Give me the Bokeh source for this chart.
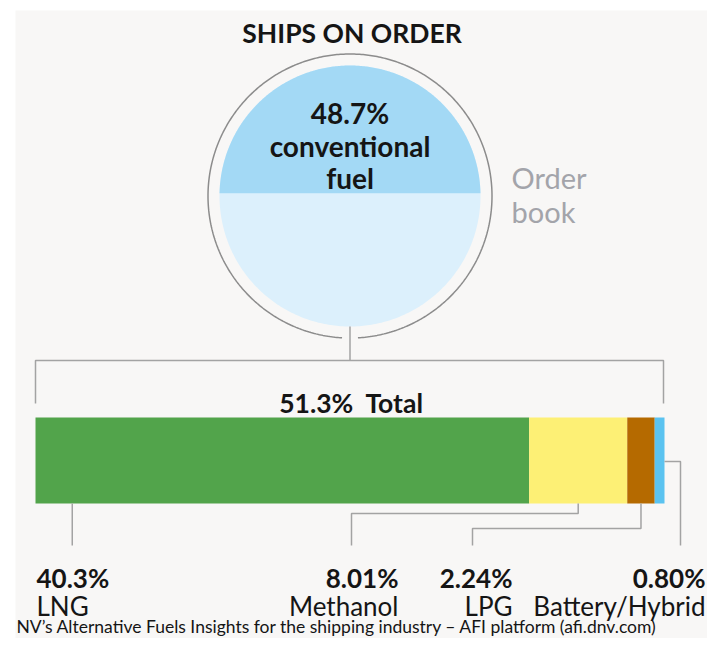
import numpy as np
from bokeh.plotting import figure
from bokeh.models import Range1d, ColumnDataSource
from bokeh.core.properties import value
from bokeh.embed import file_html
from bokeh.resources import INLINE

# ---------------- data ----------------
title = "SHIPS ON ORDER"
conventional_share = 48.7
conventional_label = ["48.7%", "conventional", "fuel"]
orderbook_label = ["Order", "book"]
total_label = "51.3%\u00a0 Total"
fuels = ["LNG", "Methanol", "LPG", "Battery/Hybrid"]
shares = [40.3, 8.01, 2.24, 0.80]
share_labels = ["40.3%", "8.01%", "2.24%", "0.80%"]
footer = "NV\u2019s Alternative Fuels Insights for the shipping industry \u2013 AFI platform (afi.dnv.com)"

# ---------------- style ----------------
FONT = value("Lato")
fuel_colors = ["#52a44b", "#fdf075", "#b56a00", "#5bc3f0"]
TXT = "#151515"
LINE = "#a3a3a3"

W, H = 707, 638
p = figure(width=W, height=H, output_backend="svg", toolbar_location=None,
           x_range=Range1d(0, W), y_range=Range1d(H, 0),
           min_border=0, outline_line_color=None,
           background_fill_color="white", border_fill_color="white")
p.axis.visible = False
p.grid.visible = False

# bar percentage scale: 0 -> px 35, sum -> px 664
bar_l, bar_r = 35.0, 664.0
tot = sum(shares)
span = tot * W / (bar_r - bar_l)
start = -bar_l * span / W
p.extra_x_ranges = {"pct": Range1d(start, start + span)}
def px(v):
    return bar_l + v * (bar_r - bar_l) / tot

# panel background
p.quad(left=[15], right=[730], top=[10], bottom=[660], fill_color="#f8f7f6", line_color=None)

# title
p.text(x=[351.5], y=[32], text=[title], text_font=FONT, text_font_style="bold",
       text_font_size="26.5px", text_align="center", text_baseline="middle", text_color=TXT)

# circle
cx, cy, r_in, r_out = 349.5, 195.5, 130.5, 142.0
phi = np.linspace(0, 2 * np.pi, 400)
p.patch(cx + r_in * np.sin(phi), cy - r_in * np.cos(phi), fill_color="#dcf0fc", line_color=None)
f = conventional_share / 100.0
th = np.pi
for _ in range(50):
    th -= (th - np.sin(th) - 2 * np.pi * f) / (1 - np.cos(th))
a = np.linspace(-th / 2, th / 2, 300)
p.patch(cx + r_in * np.sin(a), cy - r_in * np.cos(a), fill_color="#a3d9f5", line_color=None)

gap = 0.056
b = np.linspace(gap, 2 * np.pi - gap, 500)
p.line(cx + r_out * np.sin(b), cy + r_out * np.cos(b), line_color="#8c8c8c", line_width=1.5)

for txt, yb in zip(conventional_label, [112, 145, 177]):
    p.text(x=[cx], y=[yb], text=[txt], text_font=FONT, text_font_style="bold",
           text_font_size="28px", text_align="center", text_baseline="alphabetic", text_color=TXT)

for txt, yb in zip(orderbook_label, [177, 211]):
    p.text(x=[511], y=[yb], text=[txt], text_font=FONT, text_font_size="29px",
           text_align="left", text_baseline="alphabetic", text_color="#a3a4aa")

# bracket
p.line([cx, cx], [cy + r_in, 360], line_color=LINE, line_width=1.5)
p.line([bar_l, bar_l, bar_r - 1, bar_r - 1], [403, 360, 360, 403], line_color=LINE, line_width=1.5)
p.text(x=[351], y=[402], text=[total_label], text_font=FONT, text_font_style="bold",
       text_font_size="26.5px", text_align="center", text_baseline="alphabetic", text_color=TXT)

# stacked bar
lefts = np.concatenate([[0], np.cumsum(shares)[:-1]])
rights = np.cumsum(shares)
src = ColumnDataSource(dict(left=lefts, right=rights, color=fuel_colors, fuel=fuels))
p.hbar(y=460, height=86, left="left", right="right", fill_color="color", line_color=None,
       source=src, x_range_name="pct")

# leaders
bt = 503
xs_l = [
    [px(lefts[0] + 3.0), px(lefts[0] + 3.0)],
    [px((lefts[1] + rights[1]) / 2), px((lefts[1] + rights[1]) / 2), 351, 351],
    [px((lefts[2] + rights[2]) / 2), px((lefts[2] + rights[2]) / 2), 472, 472],
    [px(rights[3]), 680, 680],
]
ys_l = [
    [bt, 545],
    [bt, 513, 513, 545],
    [bt, 528, 528, 545],
    [461, 461, 545],
]
p.multi_line(xs_l, ys_l, line_color=LINE, line_width=1.5)

lab_x = [36, 398, 512, 705]
lab_align = ["left", "right", "right", "right"]
for x, al, pl, nm in zip(lab_x, lab_align, share_labels, fuels):
    p.text(x=[x], y=[577], text=[pl], text_font=FONT, text_font_style="bold",
           text_font_size="26px", text_align=al, text_baseline="alphabetic", text_color=TXT)
    p.text(x=[x], y=[605], text=[nm], text_font=FONT, text_font_size="26px",
           text_align=al, text_baseline="alphabetic", text_color=TXT)

p.text(x=[16], y=[626], text=[footer], text_font=FONT, text_font_size="17.5px",
       text_align="left", text_baseline="alphabetic", text_color=TXT)

open("out.html", "w").write(file_html(p, INLINE))
